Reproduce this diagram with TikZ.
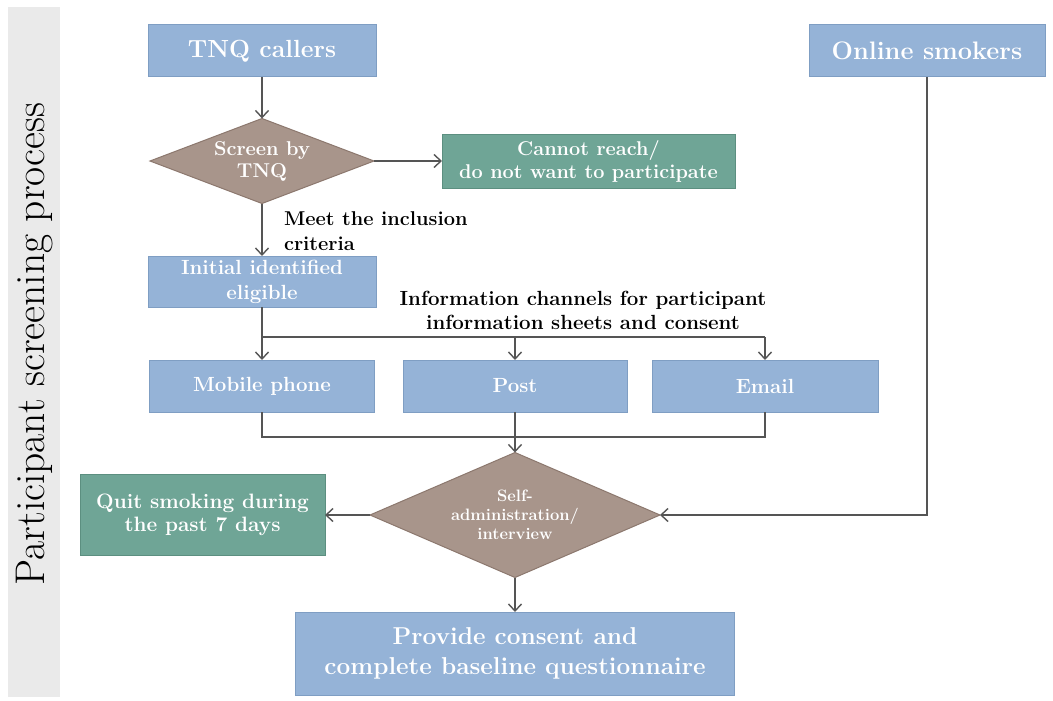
\documentclass[tikz,border=0pt]{standalone}
\usepackage{fontspec}
\usetikzlibrary{shapes.geometric,arrows.meta}
\definecolor{boxblue}{HTML}{95B3D7}
\definecolor{boxblueedge}{HTML}{7F9EC3}
\definecolor{boxgreen}{HTML}{6FA596}
\definecolor{boxgreenedge}{HTML}{5C8F80}
\definecolor{decbrown}{HTML}{A8958B}
\definecolor{decbrownedge}{HTML}{8C786E}
\definecolor{linegray}{HTML}{555555}
\definecolor{sidegray}{HTML}{EAEAEA}
\begin{document}
\begin{tikzpicture}[x=1pt,y=-1pt,
  every node/.style={inner sep=0pt, outer sep=0pt},
  sz/.style 2 args={font=\bfseries\fontsize{#1}{#2}\selectfont},
  bluebox/.style={draw=boxblueedge, line width=1pt, fill=boxblue, text=white, align=center},
  greenbox/.style={draw=boxgreenedge, line width=1pt, fill=boxgreen, text=white, align=center},
  decision/.style={shape=diamond, draw=decbrownedge, line width=1pt, fill=decbrown,
    text=white, align=center},
  note/.style={text=black},
  link/.style={draw=linegray, line width=1.4pt},
  arr/.style={link, -{Straight Barb[length=7pt,width=13pt,line width=1.4pt]}}
]
\useasboundingbox (0,0) rectangle (1053,701);
\fill[white] (0,0) rectangle (1053,701);

% side band with the stage title
\fill[sidegray] (8,7) rectangle (60,697);
\node[rotate=90, text=black, font=\fontsize{41.5}{44}\selectfont] (stage) at (35,344)
  {Participant screening process};

% entry points
\node[bluebox, sz={24.8}{26}, minimum width=228pt, minimum height=52pt] (tnq) at (262,51)
  {TNQ callers};
\node[bluebox, sz={25.3}{26}, minimum width=236pt, minimum height=52pt] (online) at (927,51)
  {Online smokers};

% first screening
\node[decision, sz={20}{22}, aspect=2.6, minimum width=224pt, minimum height=85pt] (screen) at (262,161)
  {Screen by\\TNQ};
\node[greenbox, sz={19.9}{23}, minimum width=293pt, minimum height=54pt] (cannot) at (588.5,161)
  {Cannot reach/\\do not want to participate};
\node[note, sz={20}{25}, align=left, anchor=west] (meet) at (284,231)
  {Meet the inclusion\\criteria};
\node[bluebox, sz={20.5}{25}, minimum width=228pt, minimum height=51pt] (init) at (262,281.5)
  {Initial identified\\eligible};

% information channels
\node[note, sz={20.5}{24}, align=center] (channels) at (583,310)
  {Information channels for participant\\information sheets and consent};
\node[bluebox, sz={20.5}{22}, minimum width=225pt, minimum height=52pt] (mobile) at (262,386)
  {Mobile phone};
\node[bluebox, sz={20.5}{22}, minimum width=224pt, minimum height=52pt] (post) at (515,386)
  {Post};
\node[bluebox, sz={20.5}{22}, minimum width=226pt, minimum height=52pt] (email) at (765,386)
  {Email};

% second screening
\node[decision, sz={16.5}{19}, aspect=2.3, minimum width=290pt, minimum height=125pt] (self) at (515,515)
  {Self-\\administration/\\interview};
\node[greenbox, sz={20.8}{23}, minimum width=245pt, minimum height=81pt] (quit) at (202.5,515)
  {Quit smoking during\\the past 7 days};
\node[bluebox, sz={24.4}{30}, minimum width=439pt, minimum height=83pt] (provide) at (515,653.5)
  {Provide consent and\\complete baseline questionnaire};

% junction points of the channel lines
\coordinate (split) at (262,337);
\coordinate (merge) at (262,437);

% connectors
\draw[arr] (tnq.south) -- (screen.north);
\draw[arr] (screen.east) -- (cannot.west);
\draw[arr] (screen.south) -- (init.north);
\draw[link] (init.south) -- (split);
\draw[link] (split) -- (split -| email);
\draw[arr] (split) -- (mobile.north);
\draw[arr] (split -| post) -- (post.north);
\draw[arr] (split -| email) -- (email.north);
\draw[link] (mobile.south) -- (merge) -- (merge -| email) -- (email.south);
\draw[arr] (post.south) -- (self.north);
\draw[arr] (self.west) -- (quit.east);
\draw[arr] (self.south) -- (provide.north);
\draw[arr] (online.south) |- (self.east);
\end{tikzpicture}
\end{document}
